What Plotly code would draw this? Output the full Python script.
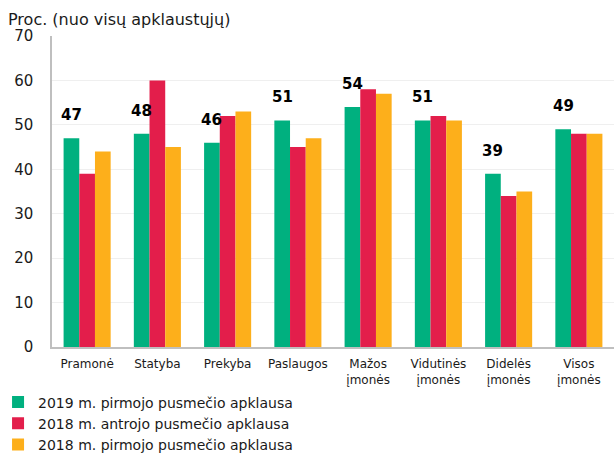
import plotly.graph_objects as go

categories = ["Pramonė", "Statyba", "Prekyba", "Paslaugos", "Mažos<br>įmonės",
              "Vidutinės<br>įmonės", "Didelės<br>įmonės", "Visos<br>įmonės"]
series_names = ["2019 m. pirmojo pusmečio apklausa",
                "2018 m. antrojo pusmečio apklausa",
                "2018 m. pirmojo pusmečio apklausa"]
s2019_1 = [47, 48, 46, 51, 54, 51, 39, 49]
s2018_2 = [39, 60, 52, 45, 58, 52, 34, 48]
s2018_1 = [44, 45, 53, 47, 57, 51, 35, 48]
colors = ["#00b07f", "#e31e4b", "#fdaf1b"]
y_ticks = [0, 10, 20, 30, 40, 50, 60, 70]

FONT = "Verdana, DejaVu Sans, sans-serif"
fig = go.Figure()
for name, vals, col in zip(series_names, [s2019_1, s2018_2, s2018_1], colors):
    fig.add_trace(go.Bar(x=list(range(len(categories))), y=vals, name=name,
                         marker=dict(color=col, line=dict(width=0))))

bargap = 0.33
bw = (1 - bargap) / 3
for i, v in enumerate(s2019_1):
    fig.add_annotation(x=i - bw, y=v, text=f"<b>{v}</b>", showarrow=False,
                       xref="x", yref="y", yanchor="bottom", yshift=12,
                       font=dict(family=FONT, size=15, color="#000000"))

fig.add_annotation(text="Proc. (nuo visų apklaustųjų)", xref="paper", yref="paper",
                   x=-0.082, y=1.0, xanchor="left", yanchor="bottom", yshift=5,
                   showarrow=False, font=dict(family=FONT, size=16, color="#1a1a1a"))

fig.update_layout(
    width=614, height=457,
    margin=dict(l=52, r=0, t=36, b=110, autoexpand=False),
    paper_bgcolor="white", plot_bgcolor="white",
    barmode="group", bargap=bargap, bargroupgap=0,
    font=dict(family=FONT, color="#1a1a1a"),
    showlegend=True,
    legend=dict(orientation="v", x=-0.096, y=-0.127, xanchor="left", yanchor="top",
                font=dict(family=FONT, size=14, color="#1a1a1a"),
                itemwidth=30, tracegroupgap=0, bgcolor="rgba(0,0,0,0)"),
    xaxis=dict(tickmode="array", tickvals=list(range(len(categories))), ticktext=categories,
               range=[-0.5, len(categories) - 0.5], automargin=False,
               showline=True, linecolor="#bfbfbf", linewidth=1.5, ticks="",
               ticklabelstandoff=5,
               showgrid=False, tickfont=dict(family=FONT, size=12, color="#1a1a1a")),
    yaxis=dict(range=[0, 70], tickvals=y_ticks, showgrid=True, gridcolor="#efefef",
               showline=True, linecolor="#bfbfbf", linewidth=1.5, ticks="",
               zeroline=False, ticklabelstandoff=14, automargin=False,
               tickfont=dict(family=FONT, size=15, color="#1a1a1a")),
)
fig.write_html("out.html", config={"displayModeBar": False},
               post_script="document.body.style.margin='0px';document.body.style.overflow='hidden';")
